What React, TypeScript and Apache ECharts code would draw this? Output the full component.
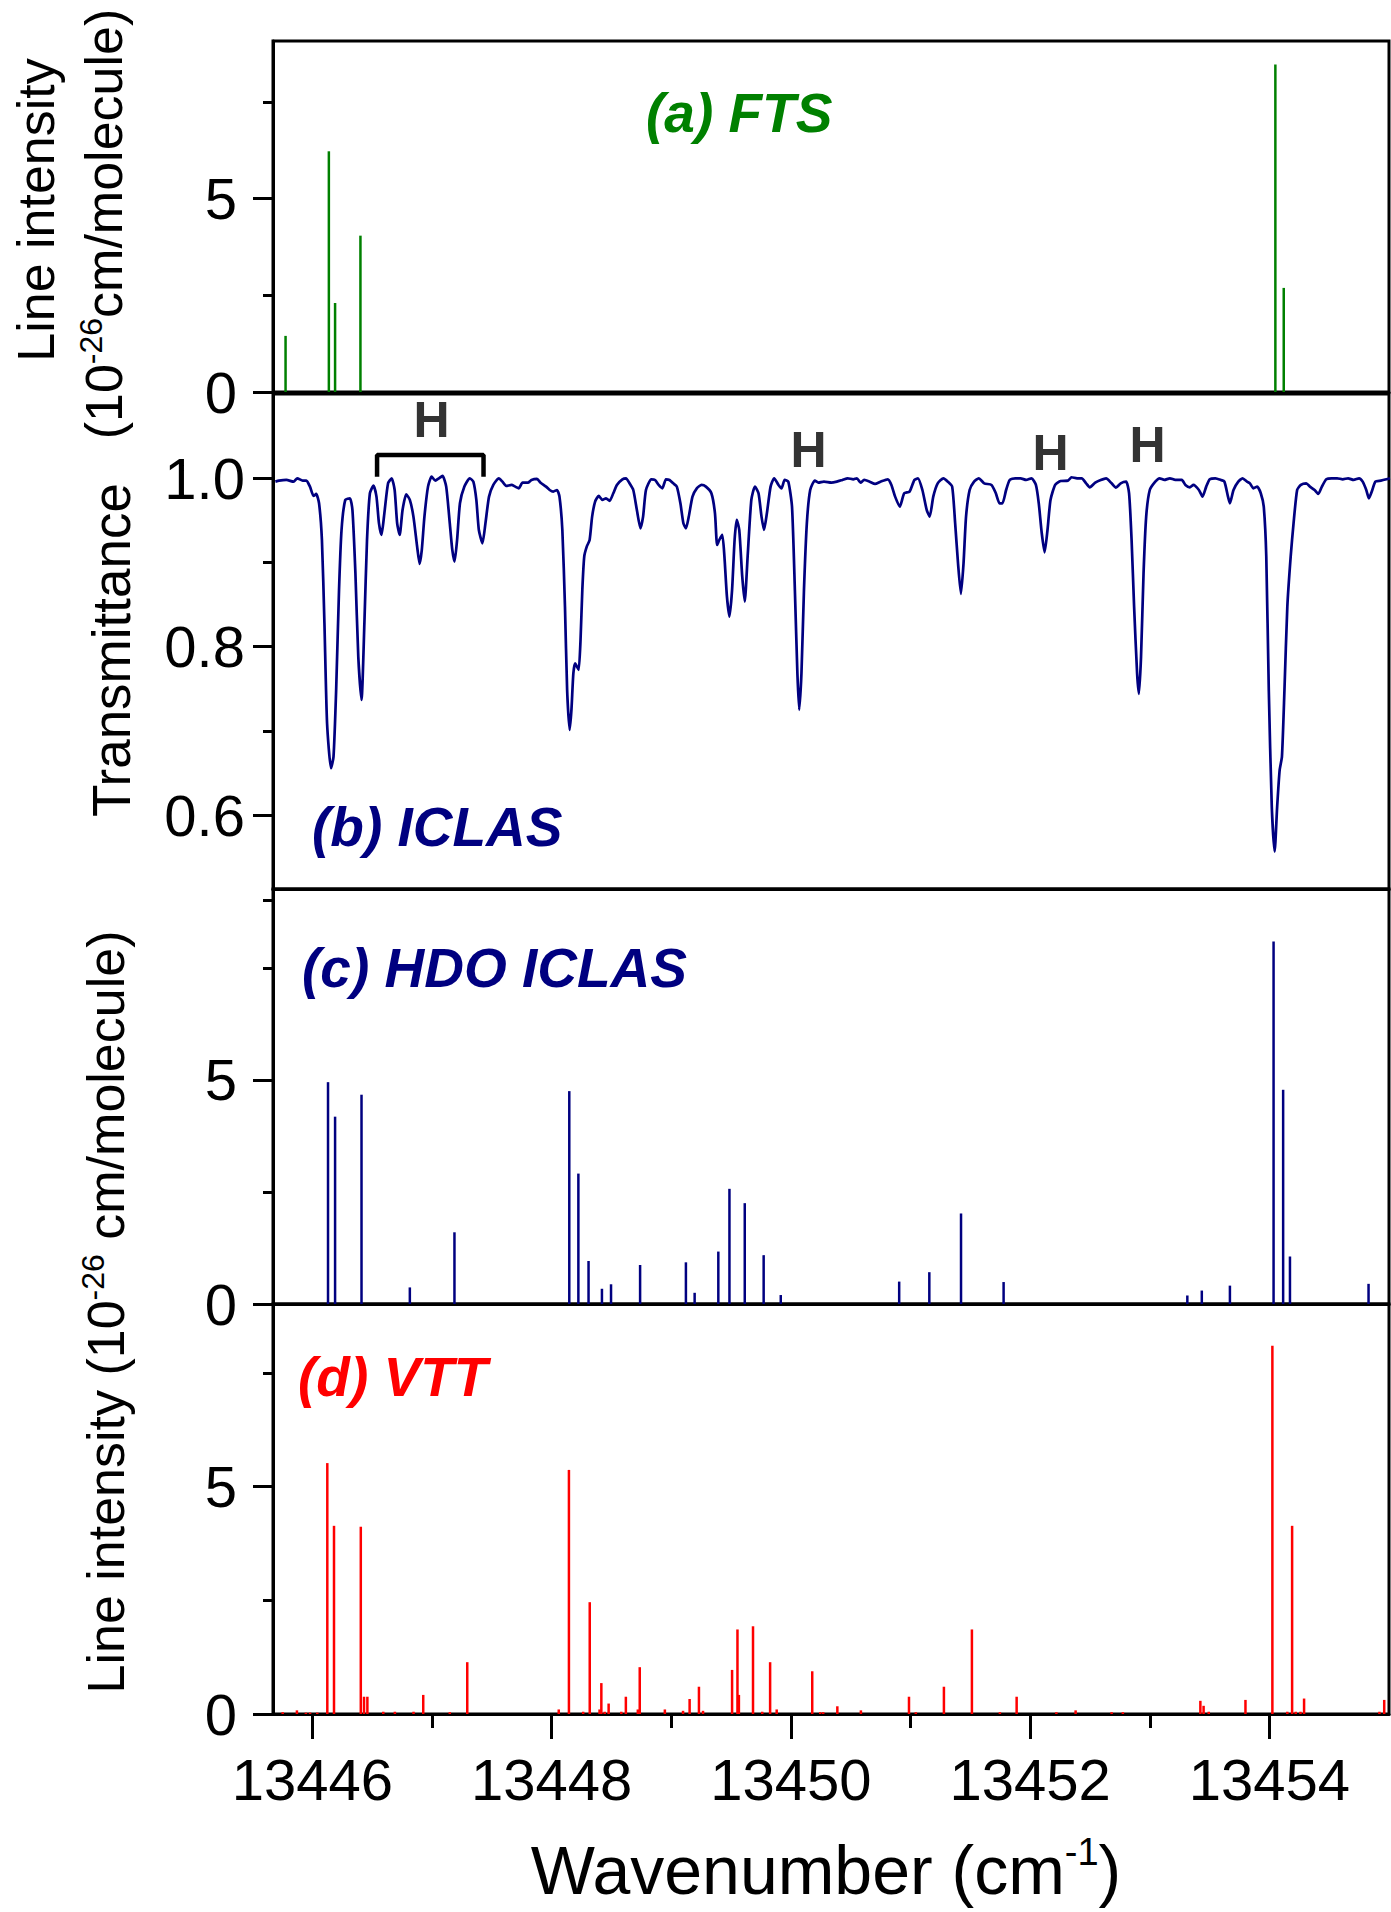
import React, { useEffect, useRef } from "react";
import * as echarts from "echarts";

const FONT = '"Liberation Sans", Arial, Helvetica, sans-serif';

const X_MIN = 13445.67;
const X_MAX = 13455.0;
const xMajorTicks = [13446, 13448, 13450, 13452, 13454];
const xMinorTicks = [13447, 13449, 13451, 13453];
const intensityTicks = [0, 5];
const intensityMinorTicks = [2.5, 7.5];
const hdoMinorTicks = [2.5, 7.5, 9];
const transTicks = [0.6, 0.8, 1.0];
const transMinorTicks = [0.7, 0.9];

// (a) FTS line list: [wavenumber, intensity]
const ftsLines = [
  [13445.775, 1.45],
  [13446.137, 6.22],
  [13446.189, 2.3],
  [13446.401, 4.04],
  [13454.05, 8.46],
  [13454.12, 2.69],
];

// (c) HDO ICLAS line list
const hdoLines = [
  [13446.13, 4.95], [13446.189, 4.18], [13446.41, 4.67], [13446.814, 0.37],
  [13447.187, 1.6], [13448.147, 4.75], [13448.223, 2.91], [13448.308, 0.96],
  [13448.42, 0.34], [13448.496, 0.44], [13448.739, 0.87], [13449.122, 0.93],
  [13449.195, 0.25], [13449.393, 1.17], [13449.486, 2.57], [13449.614, 2.25],
  [13449.772, 1.09], [13449.915, 0.2], [13450.905, 0.5], [13451.157, 0.71],
  [13451.422, 2.02], [13451.778, 0.49], [13453.314, 0.19], [13453.435, 0.3],
  [13453.67, 0.41], [13454.035, 8.09], [13454.115, 4.78], [13454.172, 1.06],
  [13454.829, 0.45],
];

// (d) VTT line list
const vttLines = [
  [13445.751, 0.04], [13445.87, 0.08], [13445.945, 0.03], [13445.98, 0.03],
  [13446.04, 0.03], [13446.124, 5.52], [13446.18, 4.14], [13446.404, 4.12],
  [13446.431, 0.38], [13446.459, 0.38], [13446.592, 0.05], [13446.689, 0.05],
  [13446.845, 0.05], [13446.926, 0.42], [13447.148, 0.04], [13447.294, 1.14],
  [13448.059, 0.1], [13448.144, 5.37], [13448.263, 0.05], [13448.318, 2.46],
  [13448.4, 0.1], [13448.415, 0.68], [13448.443, 0.05], [13448.476, 0.23],
  [13448.582, 0.05], [13448.62, 0.38], [13448.72, 0.1], [13448.736, 1.03],
  [13448.946, 0.1], [13449.098, 0.07], [13449.153, 0.33], [13449.231, 0.6],
  [13449.265, 0.07], [13449.508, 0.97], [13449.553, 1.86], [13449.565, 0.42],
  [13449.683, 1.93], [13449.76, 0.05], [13449.826, 1.14], [13449.881, 0.1],
  [13450.178, 0.94], [13450.245, 0.04], [13450.27, 0.04], [13450.388, 0.17],
  [13450.585, 0.08], [13450.987, 0.38], [13451.044, 0.04], [13451.279, 0.6],
  [13451.513, 1.86], [13451.747, 0.04], [13451.887, 0.38], [13452.219, 0.04],
  [13452.38, 0.08], [13452.681, 0.04], [13452.775, 0.04], [13453.423, 0.29],
  [13453.45, 0.18], [13453.493, 0.05], [13453.8, 0.31], [13454.025, 8.1],
  [13454.15, 0.05], [13454.19, 4.14], [13454.22, 0.05], [13454.26, 0.05],
  [13454.29, 0.34], [13454.92, 0.05], [13454.96, 0.31],
];

// (b) ICLAS transmittance trace: [wavenumber, transmittance]
const transmittance = [
  [13445.69, 0.996], [13445.721, 0.9972], [13445.782, 0.998], [13445.842, 0.996],
  [13445.873, 1.0], [13445.918, 0.9972], [13445.949, 0.9972], [13445.979, 0.9901],
  [13446.009, 0.979], [13446.031, 0.9814], [13446.055, 0.9703], [13446.079, 0.9267],
  [13446.1, 0.8278], [13446.122, 0.709], [13446.155, 0.6556], [13446.176, 0.6694],
  [13446.198, 0.7486], [13446.222, 0.8674], [13446.243, 0.9386], [13446.274, 0.9743],
  [13446.313, 0.9762], [13446.334, 0.9624], [13446.359, 0.8872], [13446.383, 0.7882],
  [13446.41, 0.7367], [13446.434, 0.8278], [13446.456, 0.9267], [13446.48, 0.9822],
  [13446.51, 0.9913], [13446.535, 0.9782], [13446.556, 0.9465], [13446.577, 0.9327],
  [13446.601, 0.9584], [13446.632, 0.994], [13446.662, 1.0], [13446.687, 0.9861],
  [13446.708, 0.9465], [13446.729, 0.9327], [13446.753, 0.9624], [13446.784, 0.981],
  [13446.814, 0.9743], [13446.844, 0.9545], [13446.875, 0.9188], [13446.896, 0.8982],
  [13446.914, 0.9149], [13446.936, 0.9545], [13446.966, 0.9901], [13446.996, 1.002],
  [13447.027, 0.9972], [13447.057, 1.0], [13447.087, 1.0028], [13447.118, 0.9901],
  [13447.148, 0.9465], [13447.169, 0.9149], [13447.188, 0.901], [13447.209, 0.9267],
  [13447.233, 0.9703], [13447.27, 0.9901], [13447.315, 1.0], [13447.345, 0.996],
  [13447.37, 0.9743], [13447.391, 0.9386], [13447.421, 0.9228], [13447.446, 0.9465],
  [13447.476, 0.9782], [13447.512, 0.9921], [13447.558, 1.0], [13447.588, 0.996],
  [13447.619, 0.9909], [13447.664, 0.9921], [13447.695, 0.9901], [13447.725, 0.9881],
  [13447.756, 0.9948], [13447.801, 0.9948], [13447.831, 0.998], [13447.877, 0.9992],
  [13447.907, 0.9948], [13447.953, 0.9901], [13447.983, 0.9861], [13448.013, 0.9842],
  [13448.044, 0.9861], [13448.065, 0.9782], [13448.089, 0.9386], [13448.111, 0.8476],
  [13448.129, 0.7486], [13448.15, 0.7011], [13448.165, 0.7249], [13448.181, 0.7684],
  [13448.196, 0.7803], [13448.211, 0.7763], [13448.226, 0.7724], [13448.241, 0.808],
  [13448.256, 0.8674], [13448.272, 0.907], [13448.293, 0.9188], [13448.317, 0.9267],
  [13448.338, 0.9545], [13448.363, 0.9723], [13448.393, 0.979], [13448.424, 0.9743],
  [13448.454, 0.9762], [13448.484, 0.9731], [13448.515, 0.9822], [13448.545, 0.9921],
  [13448.591, 0.9988], [13448.621, 1.0], [13448.651, 0.994], [13448.682, 0.9861],
  [13448.712, 0.9624], [13448.742, 0.9406], [13448.764, 0.9545], [13448.788, 0.9861],
  [13448.833, 0.9988], [13448.864, 0.998], [13448.894, 0.9921], [13448.925, 0.9881],
  [13448.955, 0.9988], [13448.985, 0.998], [13449.016, 0.994], [13449.046, 0.9901],
  [13449.076, 0.9703], [13449.101, 0.9465], [13449.122, 0.9406], [13449.146, 0.9545],
  [13449.177, 0.9782], [13449.213, 0.9881], [13449.253, 0.9921], [13449.289, 0.9901],
  [13449.335, 0.9822], [13449.365, 0.9584], [13449.383, 0.9208], [13449.401, 0.9267],
  [13449.426, 0.9327], [13449.444, 0.907], [13449.465, 0.8595], [13449.486, 0.8357],
  [13449.508, 0.8674], [13449.529, 0.9267], [13449.547, 0.9505], [13449.568, 0.9386],
  [13449.593, 0.8832], [13449.614, 0.8535], [13449.638, 0.907], [13449.669, 0.9743],
  [13449.699, 0.9901], [13449.729, 0.9822], [13449.754, 0.9545], [13449.775, 0.9386],
  [13449.799, 0.9584], [13449.83, 0.9901], [13449.86, 1.0], [13449.896, 0.9921],
  [13449.921, 0.9881], [13449.948, 0.998], [13449.978, 0.996], [13450.009, 0.9663],
  [13450.033, 0.8674], [13450.054, 0.7684], [13450.069, 0.7249], [13450.088, 0.7684],
  [13450.109, 0.8674], [13450.133, 0.9465], [13450.161, 0.9861], [13450.2, 0.9972],
  [13450.23, 0.9948], [13450.276, 0.996], [13450.338, 0.9948], [13450.384, 0.996],
  [13450.43, 0.998], [13450.475, 1.0], [13450.521, 0.9988], [13450.551, 1.0],
  [13450.582, 0.9948], [13450.612, 0.998], [13450.658, 0.996], [13450.703, 0.9933],
  [13450.749, 0.996], [13450.81, 0.9988], [13450.84, 0.9921], [13450.871, 0.9782],
  [13450.91, 0.9663], [13450.947, 0.9822], [13450.992, 0.9842], [13451.032, 0.998],
  [13451.062, 1.0], [13451.099, 0.9861], [13451.135, 0.9624], [13451.16, 0.9545],
  [13451.19, 0.9782], [13451.227, 0.994], [13451.275, 1.0], [13451.312, 0.996],
  [13451.348, 0.9901], [13451.373, 0.9465], [13451.397, 0.899], [13451.421, 0.8626],
  [13451.443, 0.899], [13451.464, 0.9545], [13451.494, 0.9861], [13451.531, 0.996],
  [13451.57, 1.0], [13451.616, 0.994], [13451.677, 0.9921], [13451.713, 0.9822],
  [13451.744, 0.9703], [13451.768, 0.9703], [13451.799, 0.9861], [13451.829, 0.998],
  [13451.875, 1.0], [13451.92, 1.0], [13451.966, 0.998], [13452.011, 1.0],
  [13452.048, 0.9921], [13452.072, 0.9703], [13452.097, 0.9347], [13452.121, 0.9121],
  [13452.145, 0.9386], [13452.17, 0.9743], [13452.209, 0.9921], [13452.255, 0.9968],
  [13452.316, 0.9972], [13452.346, 1.0012], [13452.392, 1.0], [13452.431, 1.0],
  [13452.468, 0.994], [13452.498, 0.9893], [13452.544, 0.9948], [13452.59, 0.998],
  [13452.635, 1.0], [13452.681, 0.994], [13452.717, 0.9889], [13452.757, 0.994],
  [13452.802, 0.996], [13452.827, 0.9822], [13452.848, 0.9267], [13452.869, 0.8476],
  [13452.894, 0.7684], [13452.909, 0.7439], [13452.927, 0.7882], [13452.948, 0.8872],
  [13452.97, 0.9545], [13453.0, 0.9861], [13453.046, 0.996], [13453.082, 1.0],
  [13453.122, 0.998], [13453.168, 1.0], [13453.213, 0.998], [13453.268, 0.998],
  [13453.298, 0.9921], [13453.335, 0.9893], [13453.365, 0.9921], [13453.411, 0.9861],
  [13453.441, 0.9782], [13453.472, 0.9901], [13453.502, 0.9988], [13453.548, 1.0],
  [13453.594, 0.998], [13453.624, 0.996], [13453.654, 0.9782], [13453.67, 0.9703],
  [13453.7, 0.9861], [13453.74, 0.996], [13453.776, 1.0], [13453.813, 0.996],
  [13453.837, 0.994], [13453.867, 0.9881], [13453.898, 0.9901], [13453.928, 0.9822],
  [13453.953, 0.9663], [13453.974, 0.907], [13453.995, 0.7486], [13454.02, 0.61],
  [13454.044, 0.5566], [13454.065, 0.61], [13454.086, 0.6536], [13454.105, 0.6694],
  [13454.126, 0.7486], [13454.15, 0.8476], [13454.178, 0.907], [13454.202, 0.9465],
  [13454.232, 0.9861], [13454.263, 0.9921], [13454.308, 0.994], [13454.339, 0.9901],
  [13454.378, 0.9861], [13454.409, 0.9814], [13454.439, 0.9901], [13454.476, 0.9988],
  [13454.521, 1.0], [13454.567, 1.0], [13454.613, 0.9988], [13454.658, 1.0],
  [13454.704, 0.998], [13454.75, 1.0], [13454.78, 0.996], [13454.81, 0.9861],
  [13454.832, 0.9762], [13454.856, 0.9842], [13454.886, 0.996], [13454.932, 0.9972],
  [13454.978, 0.9988], [13455.008, 1.0],
];

// "H" annotations in panel (b): [wavenumber, transmittance at label centre]
const hLabels = [
  [13446.996, 1.0696],
  [13450.147, 1.0336],
  [13452.171, 1.0301],
  [13452.982, 1.0399],
];
// bracket grouping the H lines in panel (b)
const hBracket = [
  [13446.54, 1.0019],
  [13446.54, 1.0277],
  [13447.43, 1.0277],
  [13447.43, 1.0019],
];

const GREEN = "#008000";
const NAVY = "#000080";
const RED = "#ff0000";

function stickSeries(data: number[][], axisIndex: number, color: string, width: number) {
  return {
    type: "custom",
    xAxisIndex: axisIndex,
    yAxisIndex: axisIndex,
    data,
    clip: true,
    encode: { x: 0, y: 1 },
    renderItem: (_params: any, api: any) => {
      const x = api.value(0);
      const p0 = api.coord([x, 0]);
      const p1 = api.coord([x, api.value(1)]);
      return {
        type: "line",
        shape: { x1: p0[0], y1: p0[1], x2: p1[0], y2: p1[1] },
        style: { stroke: color, lineWidth: width },
      };
    },
  };
}

export default function App() {
  const ref = useRef<HTMLDivElement>(null);

  useEffect(() => {
    if (!ref.current) return;
    const chart = echarts.init(ref.current, null, { renderer: "svg" });

    const L = 273;
    const W = 1116;
    const grids = [
      { top: 41, height: 351 },
      { top: 394, height: 495 },
      { top: 889, height: 415 },
      { top: 1304, height: 410 },
    ].map((g) => ({
      left: L,
      width: W,
      top: g.top,
      height: g.height,
      show: true,
      borderColor: "#000",
      borderWidth: 3,
      backgroundColor: "transparent",
    }));

    const axisLine = { show: true, onZero: false, lineStyle: { color: "#000", width: 3 } };
    const labelStyle = { color: "#000", fontSize: 58, fontFamily: FONT };

    const xAxes: any[] = [0, 1, 2, 3].map((i) => ({
      type: "value",
      gridIndex: i,
      position: "bottom",
      min: X_MIN,
      max: X_MAX,
      axisLine,
      splitLine: { show: false },
      axisTick:
        i === 3
          ? { show: true, customValues: xMajorTicks, length: 25, lineStyle: { color: "#000", width: 3 } }
          : { show: false },
      axisLabel:
        i === 3
          ? { show: true, customValues: xMajorTicks, margin: 36, formatter: (v: number) => String(v), ...labelStyle }
          : { show: false },
    }));
    xAxes.push({
      type: "value",
      gridIndex: 3,
      position: "bottom",
      min: X_MIN,
      max: X_MAX,
      axisLine: { show: false, onZero: false },
      splitLine: { show: false },
      axisTick: { show: true, customValues: xMinorTicks, length: 14, lineStyle: { color: "#000", width: 3 } },
      axisLabel: { show: false },
    });

    const yRanges = [
      [0, 9.07],
      [0.5122, 1.1001],
      [0, 9.26],
      [0, 9.02],
    ];
    const minorLists = [intensityMinorTicks, transMinorTicks, hdoMinorTicks, intensityMinorTicks];
    const yAxes: any[] = yRanges.map((r, i) => ({
      type: "value",
      gridIndex: i,
      position: "left",
      min: r[0],
      max: r[1],
      axisLine,
      splitLine: { show: false },
      axisTick: {
        show: true,
        customValues: i === 1 ? transTicks : intensityTicks,
        length: 20,
        lineStyle: { color: "#000", width: 3 },
      },
      axisLabel: {
        show: true,
        customValues: i === 1 ? transTicks : intensityTicks,
        margin: i === 1 ? 28 : 36,
        formatter: (v: number) => (i === 1 ? v.toFixed(1) : String(v)),
        ...labelStyle,
      },
    }));
    yRanges.forEach((r, i) => {
      yAxes.push({
        type: "value",
        gridIndex: i,
        position: "left",
        min: r[0],
        max: r[1],
        axisLine: { show: false, onZero: false },
        splitLine: { show: false },
        axisTick: {
          show: true,
          customValues: minorLists[i],
          length: 10,
          lineStyle: { color: "#000", width: 3 },
        },
        axisLabel: { show: false },
      });
    });

    const titleFont = (size: number) => ({ fontSize: size, fontFamily: FONT, fill: "#000" });
    const supRich = (main: number, sup: number) => ({
      m: { fontSize: main, fontFamily: FONT, fill: "#000", lineHeight: main + 6, verticalAlign: "middle" },
      s: { fontSize: sup, fontFamily: FONT, fill: "#000", lineHeight: 16, verticalAlign: "top" },
    });

    const panelLabel = (text: string, x: number, y: number, color: string) => ({
      type: "text",
      x,
      y,
      style: {
        text,
        fill: color,
        font: `italic bold 55px ${FONT}`,
        align: "left",
        verticalAlign: "middle",
      },
      z: 10,
    });

    const option: any = {
      animation: false,
      backgroundColor: "#fff",
      grid: grids,
      xAxis: xAxes,
      yAxis: yAxes,
      series: [
        stickSeries(ftsLines, 0, GREEN, 2.5),
        {
          type: "line",
          xAxisIndex: 1,
          yAxisIndex: 1,
          data: transmittance,
          showSymbol: false,
          symbol: "none",
          smooth: 0.2,
          lineStyle: { color: NAVY, width: 2.7 },
          clip: true,
        },
        {
          type: "line",
          xAxisIndex: 1,
          yAxisIndex: 1,
          data: hBracket,
          symbol: "none",
          lineStyle: { color: "#000", width: 4.5 },
        },
        {
          type: "scatter",
          xAxisIndex: 1,
          yAxisIndex: 1,
          data: hLabels,
          symbolSize: 1,
          itemStyle: { color: "rgba(0,0,0,0)" },
          label: {
            show: true,
            position: "inside",
            formatter: "H",
            color: "#000",
            fontSize: 50,
            fontWeight: "bold",
            fontFamily: FONT,
            textBorderWidth: 0,
          },
        },
        stickSeries(hdoLines, 2, NAVY, 2.5),
        stickSeries(vttLines, 3, RED, 2.5),
      ],
      graphic: [
        panelLabel("(a) FTS", 646, 113, GREEN),
        panelLabel("(b) ICLAS", 312, 827, NAVY),
        panelLabel("(c) HDO ICLAS", 302, 968, NAVY),
        panelLabel("(d) VTT", 298, 1377, RED),
        {
          type: "text",
          x: 36,
          y: 210,
          rotation: Math.PI / 2,
          style: { text: "Line intensity", ...titleFont(52), align: "center", verticalAlign: "middle" },
        },
        {
          type: "text",
          x: 104,
          y: 224,
          rotation: Math.PI / 2,
          style: {
            text: "{m|(10}{s|-26}{m|cm/molecule)}",
            rich: supRich(52, 32),
            align: "center",
            verticalAlign: "middle",
          },
        },
        {
          type: "text",
          x: 111,
          y: 650,
          rotation: Math.PI / 2,
          style: { text: "Transmittance", ...titleFont(53), align: "center", verticalAlign: "middle" },
        },
        {
          type: "text",
          x: 106,
          y: 1312,
          rotation: Math.PI / 2,
          style: {
            text: "{m|Line intensity (10}{s|-26}{m| cm/molecule)}",
            rich: supRich(52, 32),
            align: "center",
            verticalAlign: "middle",
          },
        },
        {
          type: "text",
          x: 826,
          y: 1870,
          style: {
            text: "{m|Wavenumber (cm}{s|-1}{m|)}",
            rich: supRich(68, 38),
            align: "center",
            verticalAlign: "middle",
          },
        },
      ],
    };

    chart.setOption(option);
    return () => chart.dispose();
  }, []);

  return (
    <div
      ref={ref}
      style={{ position: "absolute", left: 0, top: 0, width: 1391, height: 1912, background: "#fff" }}
    />
  );
}
